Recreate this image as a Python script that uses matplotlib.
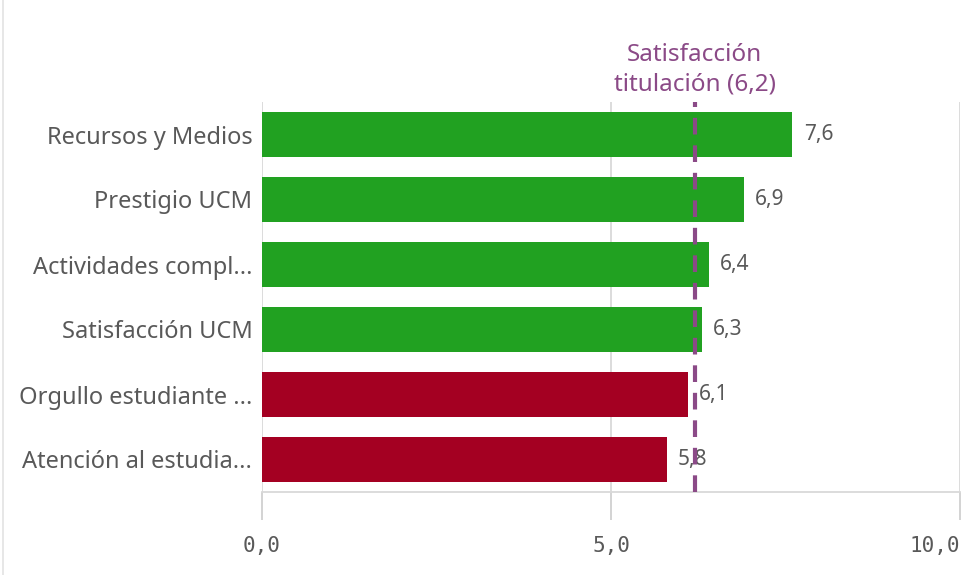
import matplotlib.pyplot as plt
from matplotlib.lines import Line2D

# valores medios por dimensión (de arriba a abajo)
categorias = ["Recursos y Medios", "Prestigio UCM", "Actividades compl...",
              "Satisfacción UCM", "Orgullo estudiante ...", "Atención al estudia..."]
valores = [7.6, 6.9, 6.4, 6.3, 6.1, 5.8]
colores = ["#21a121", "#21a121", "#21a121", "#21a121", "#a40022", "#a40022"]
referencia = 6.2
etiqueta_ref = "Satisfacción\ntitulación (6,2)"
ticks_x = [0, 5, 10]
ticks_x_txt = ["0,0", "5,0", "10,0"]

gris = "#595959"
fig = plt.figure(figsize=(9.65, 5.75), dpi=100)
ax = fig.add_axes([262 / 965, 83 / 575, 698 / 965, 390 / 575])

pos = list(range(len(categorias)))
ax.barh(pos, valores, height=0.7, color=colores, zorder=2)
ax.set_ylim(len(categorias) - 0.5, -0.5)
ax.set_xlim(0, 10)

for p, v in zip(pos, valores):
    ax.text(v + 0.16, p, f"{v:.1f}".replace(".", ","), va="center", ha="left",
            fontsize=15, color=gris, family="Noto Sans", zorder=3)

ax.axvline(referencia, color="#8b4a87", lw=3, dashes=(4, 2.6), zorder=4)
ax.text(referencia, -0.58, etiqueta_ref, ha="center", va="bottom", fontsize=17.5,
        color="#8b4a87", family="Noto Sans", linespacing=1.3)

ax.set_yticks(pos)
ax.set_yticklabels(categorias, fontsize=17, color=gris, family="Noto Sans")
ax.tick_params(axis="y", length=0, pad=7)

ax.set_xticks(ticks_x)
ax.set_xticklabels(ticks_x_txt, fontsize=15, color=gris, family="DejaVu Sans Mono")
ax.tick_params(axis="x", length=20, width=1.2, color="#cccccc", pad=12)
# la última etiqueta se alinea a la derecha para no salirse
ax.get_xticklabels()[-1].set_horizontalalignment("right")

ax.grid(axis="x", color="#d9d9d9", lw=1.3, zorder=0)
for s in ["top", "right", "left"]:
    ax.spines[s].set_visible(False)
ax.spines["bottom"].set_color("#d9d9d9")
ax.spines["bottom"].set_linewidth(1.3)

# borde izquierdo del panel
fig.add_artist(Line2D([3 / 965, 3 / 965], [0, 1], color="#e3e3e3", lw=1.2))

fig.savefig("out.png", dpi=100)
